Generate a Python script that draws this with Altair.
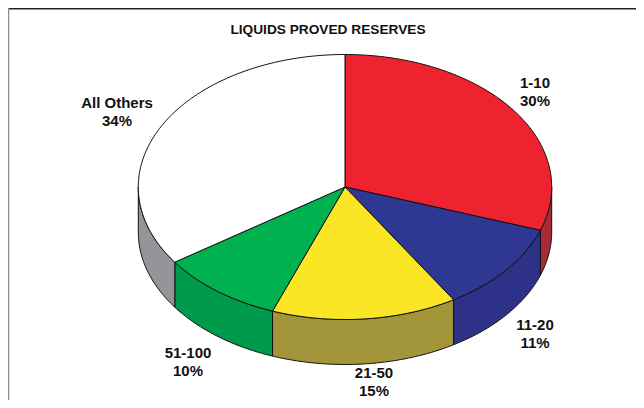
import math
import altair as alt
import pandas as pd

TITLE = "LIQUIDS PROVED RESERVES"
categories = ["1-10", "11-20", "21-50", "51-100", "All Others"]
shares = [30.3, 10.9, 14.5, 9.7, 34.6]
share_labels = [30, 11, 15, 10, 34]
top_colors = ["#EF2330", "#2E3792", "#FBE625", "#00B14F", "#FFFFFF"]
side_colors = ["#A92A34", "#2E3188", "#A3963A", "#009A4C", "#939598"]

W, H = 628, 392
CX, CY = 337, 179          # pie centre inside the chart
RX, RY, DEPTH = 206.7, 132.5, 45

label_x = [527, 527, 366, 180, 109]
label_y = [75, 317, 365, 345, 95]


def rim(deg, drop=0.0):
    a = math.radians(deg)
    return [RX * math.sin(a), RY * math.cos(a) - drop]


def arc_angles(a, b):
    n = max(2, int(abs(b - a)) + 1)
    return [a + (b - a) * i / n for i in range(n + 1)]


tops, sides = [], []
start = 0.0
for cat, s, tc, sc in zip(categories, shares, top_colors, side_colors):
    end = start + s * 3.6
    ring = [[0, 0]] + [rim(d) for d in arc_angles(start, end)] + [[0, 0]]
    tops.append({"type": "Feature", "properties": {"name": cat, "fill": tc},
                 "geometry": {"type": "Polygon", "coordinates": [ring]}})
    a, b = max(start, 90.0), min(end, 270.0)
    if b > a:
        angles = arc_angles(a, b)
        wall = [rim(d) for d in angles] + [rim(d, DEPTH) for d in reversed(angles)]
        wall.append(wall[0])
        sides.append({"type": "Feature", "properties": {"name": cat, "fill": sc},
                      "geometry": {"type": "Polygon", "coordinates": [wall]}})
    start = end


def shapes(features):
    return (
        alt.Chart(alt.InlineData(values={"type": "FeatureCollection", "features": features},
                                 format=alt.DataFormat(type="json", property="features")))
        .mark_geoshape(stroke="#111111", strokeWidth=1, strokeJoin="round")
        .encode(fill=alt.Fill("properties.fill:N", scale=None))
        .project(type="identity", reflectY=True, scale=1, translate=[CX, CY])
    )


labels = pd.DataFrame({
    "text": [f"{c}\n{p}%" for c, p in zip(categories, share_labels)],
    "px": label_x,
    "py": label_y,
})
label_layer = alt.Chart(labels).mark_text(
    font="Liberation Sans", fontWeight="bold", fontSize=15, lineBreak="\n",
    lineHeight=18, color="#111111", align="center", baseline="middle",
).encode(x=alt.X("px:Q", scale=None), y=alt.Y("py:Q", scale=None), text="text:N")

title_layer = alt.Chart(pd.DataFrame({"t": [TITLE]})).mark_text(
    font="Liberation Sans", fontWeight="bold", fontSize=13.7, color="#111111",
    align="center", baseline="middle",
).encode(x=alt.value(320), y=alt.value(22), text="t:N")

top_rule = alt.Chart(pd.DataFrame({"a": [0]})).mark_rule(color="#222222", strokeWidth=1.5).encode(
    x=alt.value(0), x2=alt.value(W), y=alt.value(0.75))
left_rule = alt.Chart(pd.DataFrame({"a": [0]})).mark_rule(color="#8c8c8c", strokeWidth=1.5).encode(
    x=alt.value(0.5), y=alt.value(0), y2=alt.value(H))

chart = alt.layer(
    top_rule, left_rule, shapes(sides), shapes(tops), label_layer, title_layer
).properties(width=W, height=H, padding=0, autosize=alt.AutoSizeParams(type="none")
).configure_view(stroke=None).configure(background="white")

chart.save("out.html", embed_options={"renderer": "svg", "actions": False})
